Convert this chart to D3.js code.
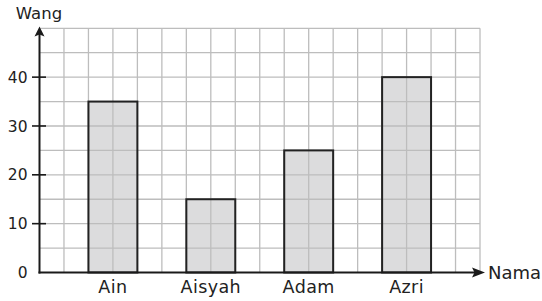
<!DOCTYPE html>
<html>
<head>
<meta charset="utf-8">
<script src="https://cdn.jsdelivr.net/npm/d3@7"></script>
<style>
  html, body { margin: 0; padding: 0; background: #fff; }
  text { font-family: "DejaVu Sans", "Noto Sans", sans-serif; fill: #222; }
</style>
</head>
<body>
<script>
const names = ['Ain', 'Aisyah', 'Adam', 'Azri'];
const money = [35, 15, 25, 40];
const yTicks = [0, 10, 20, 30, 40];

const width = 542;
const height = 301;
const x0 = 39.5, x1 = 480;
const yBottom = 272.5, yTop = 28.3;

const svg = d3.select('body').append('svg')
    .attr('width', width)
    .attr('height', height);

const x = d3.scaleBand()
    .domain(names)
    .range([x0, x1])
    .paddingInner(0.5)
    .paddingOuter(0.5);

const y = d3.scaleLinear()
    .domain([0, 50])
    .range([yBottom, yTop]);

const col = x.bandwidth() / 2;
const nCols = Math.round((x1 - x0) / col);

// bar fills first, grid goes over them
svg.append('g')
    .selectAll('rect')
    .data(names)
    .join('rect')
        .attr('x', d => x(d))
        .attr('y', (d, i) => y(money[i]))
        .attr('width', x.bandwidth())
        .attr('height', (d, i) => y(0) - y(money[i]))
        .attr('fill', '#dcdcdd');

// grid
const grid = svg.append('g')
    .attr('stroke', '#bdbdbd')
    .attr('stroke-width', 1.3);

grid.selectAll('line.v')
    .data(d3.range(1, nCols + 1))
    .join('line')
        .attr('class', 'v')
        .attr('x1', i => x0 + i * col)
        .attr('x2', i => x0 + i * col)
        .attr('y1', yTop)
        .attr('y2', yBottom);

grid.selectAll('line.h')
    .data(d3.range(5, 55, 5))
    .join('line')
        .attr('class', 'h')
        .attr('x1', x0)
        .attr('x2', x1)
        .attr('y1', d => y(d))
        .attr('y2', d => y(d));

// bar outlines
svg.append('g')
    .selectAll('rect')
    .data(names)
    .join('rect')
        .attr('x', d => x(d))
        .attr('y', (d, i) => y(money[i]))
        .attr('width', x.bandwidth())
        .attr('height', (d, i) => y(0) - y(money[i]))
        .attr('fill', 'none')
        .attr('stroke', '#222')
        .attr('stroke-width', 2);

// axes
const axis = svg.append('g').attr('stroke', '#1a1a1a').attr('stroke-width', 2);
axis.append('line')
    .attr('x1', x0).attr('x2', x0)
    .attr('y1', yBottom + 1).attr('y2', 32);
axis.append('line')
    .attr('x1', x0 - 1).attr('x2', 476)
    .attr('y1', yBottom).attr('y2', yBottom);

svg.append('path')
    .attr('d', `M${x0},26.5 L${x0 - 5},36.5 L${x0},34.5 L${x0 + 5},36.5 Z`)
    .attr('fill', '#1a1a1a');
svg.append('path')
    .attr('d', `M485,${yBottom} L472,${yBottom - 5} L474.5,${yBottom} L472,${yBottom + 5} Z`)
    .attr('fill', '#1a1a1a');

// y ticks
const yAxis = svg.append('g');
yAxis.selectAll('line')
    .data(yTicks.filter(d => d > 0))
    .join('line')
        .attr('x1', 32).attr('x2', 46)
        .attr('y1', d => y(d)).attr('y2', d => y(d))
        .attr('stroke', '#1a1a1a')
        .attr('stroke-width', 1.6);
yAxis.selectAll('text')
    .data(yTicks)
    .join('text')
        .attr('x', 27.5)
        .attr('y', d => y(d))
        .attr('dy', '0.36em')
        .attr('text-anchor', 'end')
        .attr('font-size', 15.5)
        .text(d => d);

// x labels
svg.append('g')
    .selectAll('text')
    .data(names)
    .join('text')
        .attr('x', d => x(d) + x.bandwidth() / 2)
        .attr('y', 293)
        .attr('text-anchor', 'middle')
        .attr('font-size', 17.5)
        .attr('letter-spacing', 0.4)
        .text(d => d);

svg.append('text')
    .attr('x', 39)
    .attr('y', 18.5)
    .attr('text-anchor', 'middle')
    .attr('font-size', 16.5)
    .text('Wang');

svg.append('text')
    .attr('x', 488)
    .attr('y', yBottom)
    .attr('dy', '0.36em')
    .attr('font-size', 18)
    .text('Nama');
</script>
</body>
</html>
